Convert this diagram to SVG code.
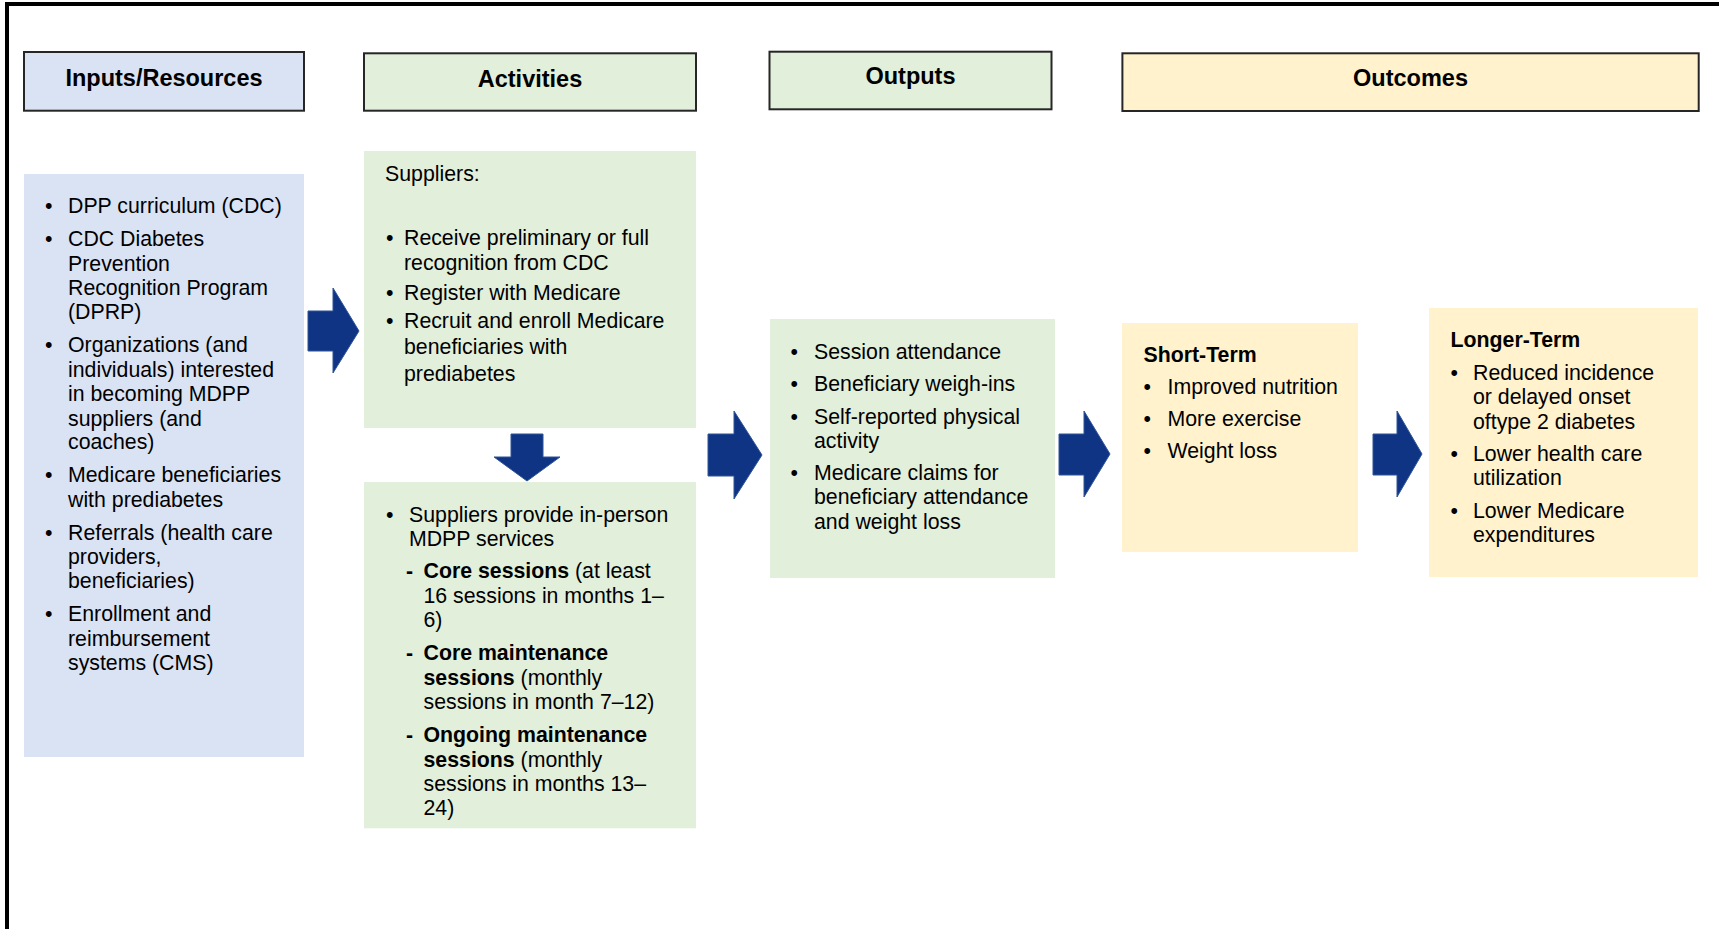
<svg xmlns="http://www.w3.org/2000/svg" width="1719" height="929" viewBox="0 0 1719 929">
<style>
text{font-family:"Liberation Sans",Arial,sans-serif;fill:#000}
.h{font-size:23.5px;font-weight:bold;text-anchor:middle}
.t{font-size:21.3px}
.b{font-weight:bold}
.hdr{stroke:#262626;stroke-width:2}
.blue{fill:#dae3f3}
.green{fill:#e2efda}
.yellow{fill:#fff2cc}
.arrow{fill:#0e3483;stroke:#2f5597;stroke-width:1}
</style>
<rect width="1719" height="929" fill="#fff"/>
<polyline points="7,929 7,4 1719,4" fill="none" stroke="#000" stroke-width="4"/>

<g id="hdr-inputs"><rect class="hdr blue" x="24" y="52" width="280" height="58.7"/><text class="h" x="164" y="85.5">Inputs/Resources</text></g>
<g id="hdr-activities"><rect class="hdr green" x="364" y="53.3" width="332" height="57.4"/><text class="h" x="530" y="87">Activities</text></g>
<g id="hdr-outputs"><rect class="hdr green" x="769.5" y="51.7" width="282" height="57.6"/><text class="h" x="910.5" y="84">Outputs</text></g>
<g id="hdr-outcomes"><rect class="hdr yellow" x="1122.4" y="53.3" width="576.3" height="57.7" stroke="#111" stroke-width="2.8"/><text class="h" x="1410.5" y="86">Outcomes</text></g>

<g id="inputs">
<rect class="blue" x="24" y="174" width="280" height="583"/>
<g class="t">
<text x="45" y="213.3">•</text><text x="68" y="213.3">DPP curriculum (CDC)</text>
<text x="45" y="246">•</text><text x="68" y="246">CDC Diabetes</text>
<text x="68" y="271">Prevention</text>
<text x="68" y="295.3">Recognition Program</text>
<text x="68" y="318.8">(DPRP)</text>
<text x="45" y="352.3">•</text><text x="68" y="352.3">Organizations (and</text>
<text x="68" y="377">individuals) interested</text>
<text x="68" y="401.3">in becoming MDPP</text>
<text x="68" y="425.7">suppliers (and</text>
<text x="68" y="449.3">coaches)</text>
<text x="45" y="482.3">•</text><text x="68" y="482.3">Medicare beneficiaries</text>
<text x="68" y="507">with prediabetes</text>
<text x="45" y="540">•</text><text x="68" y="540">Referrals (health care</text>
<text x="68" y="564">providers,</text>
<text x="68" y="588.3">beneficiaries)</text>
<text x="45" y="621">•</text><text x="68" y="621">Enrollment and</text>
<text x="68" y="646">reimbursement</text>
<text x="68" y="670">systems (CMS)</text>
</g>
</g>

<g id="activities-1">
<rect class="green" x="364" y="151" width="332" height="277"/>
<g class="t">
<text x="385" y="180.7">Suppliers:</text>
<text x="386" y="245">•</text><text x="404" y="245">Receive preliminary or full</text>
<text x="404" y="270.3">recognition from CDC</text>
<text x="386" y="299.5">•</text><text x="404" y="299.5">Register with Medicare</text>
<text x="386" y="328">•</text><text x="404" y="328">Recruit and enroll Medicare</text>
<text x="404" y="354.2">beneficiaries with</text>
<text x="404" y="380.5">prediabetes</text>
</g>
</g>

<g id="activities-2">
<rect class="green" x="364" y="482" width="332" height="346.3"/>
<g class="t">
<text x="386" y="521.7">•</text><text x="409" y="521.7">Suppliers provide in-person</text>
<text x="409" y="546">MDPP services</text>
<text x="406" y="578.3" class="b">-</text><text x="423.5" y="578.3"><tspan class="b">Core sessions</tspan> (at least</text>
<text x="423.5" y="603.3">16 sessions in months 1–</text>
<text x="423.5" y="627.3">6)</text>
<text x="406" y="660" class="b">-</text><text x="423.5" y="660" class="b">Core maintenance</text>
<text x="423.5" y="685"><tspan class="b">sessions</tspan> (monthly</text>
<text x="423.5" y="708.7">sessions in month 7–12)</text>
<text x="406" y="741.7" class="b">-</text><text x="423.5" y="741.7" class="b">Ongoing maintenance</text>
<text x="423.5" y="766.7"><tspan class="b">sessions</tspan> (monthly</text>
<text x="423.5" y="790.7">sessions in months 13–</text>
<text x="423.5" y="815">24)</text>
</g>
</g>

<g id="outputs">
<rect class="green" x="770" y="319" width="285" height="259"/>
<g class="t">
<text x="790.5" y="359.3">•</text><text x="814" y="359.3">Session attendance</text>
<text x="790.5" y="390.7">•</text><text x="814" y="390.7">Beneficiary weigh-ins</text>
<text x="790.5" y="424">•</text><text x="814" y="424">Self-reported physical</text>
<text x="814" y="447.7">activity</text>
<text x="790.5" y="480">•</text><text x="814" y="480">Medicare claims for</text>
<text x="814" y="504">beneficiary attendance</text>
<text x="814" y="529.3">and weight loss</text>
</g>
</g>

<g id="short-term">
<rect class="yellow" x="1122" y="323" width="236" height="229"/>
<g class="t">
<text x="1143.5" y="361.7" class="b">Short-Term</text>
<text x="1143.5" y="394">•</text><text x="1167.5" y="394">Improved nutrition</text>
<text x="1143.5" y="426">•</text><text x="1167.5" y="426">More exercise</text>
<text x="1143.5" y="458.3">•</text><text x="1167.5" y="458.3">Weight loss</text>
</g>
</g>

<g id="longer-term">
<rect class="yellow" x="1429" y="308" width="269" height="269"/>
<g class="t">
<text x="1450.5" y="346.7" class="b">Longer-Term</text>
<text x="1450.5" y="380">•</text><text x="1473" y="380">Reduced incidence</text>
<text x="1473" y="404">or delayed onset</text>
<text x="1473" y="429">oftype 2 diabetes</text>
<text x="1450.5" y="461">•</text><text x="1473" y="461">Lower health care</text>
<text x="1473" y="485">utilization</text>
<text x="1450.5" y="517.7">•</text><text x="1473" y="517.7">Lower Medicare</text>
<text x="1473" y="541.7">expenditures</text>
</g>
</g>

<g id="connectors">
<polygon class="arrow" points="308,311 333,311 333,288 359,331 333,373 333,351 308,351"/>
<polygon class="arrow" points="511,434 543,434 543,457 560,457 527,481 494,457 511,457"/>
<polygon class="arrow" points="708,434 734,434 734,411 762,455 734,499 734,476 708,476"/>
<polygon class="arrow" points="1059,434 1084,434 1084,411 1110,454 1084,497 1084,475 1059,475"/>
<polygon class="arrow" points="1373,434 1397,434 1397,411 1422,454 1397,497 1397,475 1373,475"/>
</g>
</svg>
